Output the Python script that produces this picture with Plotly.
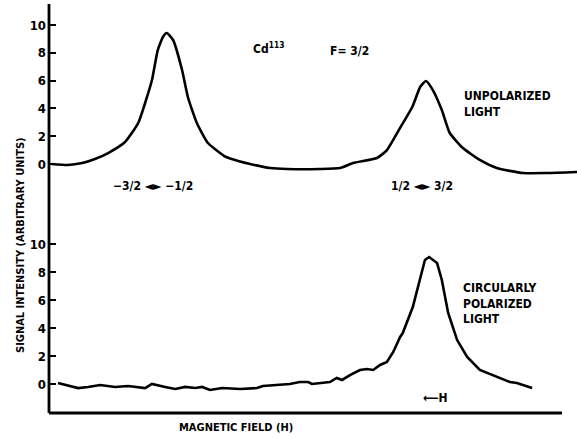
import plotly.graph_objects as go

# ---- data (arbitrary field units, signal in arbitrary units) ----
field_unpol = [0.5, 3.6, 6.3, 8.7, 11.2, 14.4, 16.9, 18.2, 19.5, 20.6, 21.6, 22.3, 23.5, 25.2,
               26.3, 28.0, 30.1, 33.3, 34.3, 38.1, 41.9, 45.1, 51.3, 55.1, 57.6, 62.1, 64.0,
               66.5, 68.8, 70.3, 71.4, 72.7, 74.4, 75.9, 78.4, 81.6, 84.8, 89.8, 94.3, 100.0]
signal_unpol = [0.0, -0.07, 0.07, 0.36, 0.79, 1.58, 2.95, 4.39, 6.04, 8.2, 9.15, 9.42, 8.92, 6.76,
                4.82, 2.95, 1.51, 0.55, 0.4, 0.0, -0.29, -0.36, -0.36, -0.29, 0.07, 0.43, 1.0,
                2.6, 4.1, 5.54, 5.97, 5.32, 3.88, 2.23, 1.15, 0.29, -0.29, -0.65, -0.65, -0.58]

field_circ = [1.7, 5.5, 7.4, 9.7, 12.5, 15.0, 18.2, 19.5, 22.0, 23.9, 25.8, 27.7, 29.0, 30.5,
              32.8, 36.2, 39.4, 40.5, 45.6, 47.5, 49.1, 49.8, 53.2, 54.5, 55.5, 57.0, 58.9,
              60.2, 61.4, 62.7, 64.0, 65.2, 66.5, 67.0, 68.9, 70.3, 71.2, 72.0, 73.5, 74.4,
              75.6, 77.3, 79.2, 81.6, 84.8, 87.3, 88.6, 89.8, 91.5]
signal_circ = [0.07, -0.29, -0.21, -0.07, -0.21, -0.14, -0.29, 0.0, -0.21, -0.36, -0.21, -0.29,
               -0.21, -0.43, -0.29, -0.36, -0.29, -0.14, 0.0, 0.14, 0.14, 0.0, 0.14, 0.43, 0.29,
               0.64, 1.0, 1.07, 1.0, 1.36, 1.57, 2.29, 3.36, 3.64, 5.5, 7.64, 8.86, 9.07, 8.64,
               7.43, 5.07, 3.14, 1.93, 1.0, 0.5, 0.14, 0.07, -0.07, -0.29]

tick_vals = [0, 2, 4, 6, 8, 10]
tick_text = ["0", "2", "4", "6", "8", "10"]

# ---- layout geometry ----
W, H = 577, 438
ML, MR, MT, MB = 49, 0, 4, 25
PW, PH = W - ML - MR, H - MT - MB

def px(x):
    return (x - ML) / PW

def py(y):
    return (H - MB - y) / PH

split = py(220)
FONT = "DejaVu Sans Condensed"

fig = go.Figure()
fig.add_trace(go.Scatter(x=field_unpol, y=signal_unpol, mode="lines",
                         line=dict(color="black", width=2.6, shape="spline", smoothing=0.5),
                         xaxis="x", yaxis="y2", showlegend=False))
fig.add_trace(go.Scatter(x=field_circ, y=signal_circ, mode="lines",
                         line=dict(color="black", width=2.6),
                         xaxis="x", yaxis="y", showlegend=False))

axis_common = dict(tickvals=tick_vals, ticktext=tick_text, ticks="inside", ticklen=7,
                   tickwidth=2, tickcolor="black", showline=False,
                   showgrid=False, zeroline=False, ticklabelstandoff=2,
                   tickfont=dict(family=FONT, size=13, color="black", weight="bold"))

fig.update_layout(
    width=W, height=H,
    margin=dict(l=ML, r=MR, t=MT, b=MB),
    paper_bgcolor="white", plot_bgcolor="white",
    xaxis=dict(range=[0, 100], showline=False, showticklabels=False, ticks="",
               showgrid=False, zeroline=False),
    yaxis=dict(domain=[0, split], range=[-(413 - 384) / 14, (384 - 220) / 14], **axis_common),
    yaxis2=dict(domain=[split, 1], range=[-(220 - 164) / 13.9, (164 - 4) / 13.9], **axis_common),
)

# axis lines
fig.add_shape(type="line", xref="paper", yref="paper", x0=0, x1=px(562), y0=0, y1=0,
              line=dict(color="black", width=2.8))
fig.add_shape(type="line", xref="paper", yref="paper", x0=0, x1=0, y0=0, y1=1,
              line=dict(color="black", width=2.8))

def note(text, x, y, xanchor="center", size=12, **kw):
    fig.add_annotation(text=text, x=px(x), y=py(y), xref="paper", yref="paper",
                       showarrow=False, xanchor=xanchor, yanchor="middle",
                       font=dict(family=FONT, size=size, color="black", weight="bold"), **kw)

note("Cd<sup>113</sup>", 268, 48)
note("F= 3/2", 349, 51)
note("UNPOLARIZED<br>LIGHT", 462, 104, xanchor="left", align="left")
note("−3/2 ◄► −1/2", 153, 186)
note("1/2 ◄► 3/2", 422, 186)
note("CIRCULARLY<br>POLARIZED<br>LIGHT", 461, 303, xanchor="left", align="left")
note("⟵H", 435, 398)
note("MAGNETIC FIELD (H)", 236, 427, size=11)
note("SIGNAL INTENSITY (ARBITRARY UNITS)", 20, 245, size=11, textangle=-90)

fig.write_html("out.html")
